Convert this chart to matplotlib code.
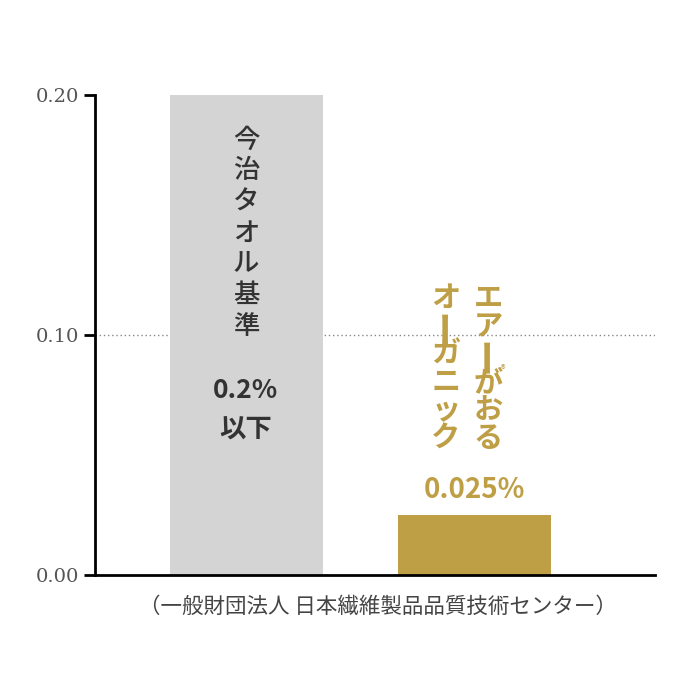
import matplotlib.pyplot as plt

plt.rcParams['font.family'] = ['Noto Sans CJK JP', 'DejaVu Sans']

# データ
labels = ['今治タオル基準', 'エアーがおる オーガニック']
values = [0.20, 0.025]
yticks = [0.00, 0.10, 0.20]
colors = ['#d4d4d4', '#bf9f45']
gold = '#bf9f45'

fig = plt.figure(figsize=(7, 7), dpi=100)
ax = fig.add_axes([95/700, 1-575/700, 560/700, 480/700])

ax.bar([1.08, 2.71], values, width=1.09, color=colors, zorder=2)
ax.axhline(0.10, color='#888888', linestyle=(0, (1, 2)), linewidth=1, zorder=1)

ax.set_xlim(0, 4)
ax.set_ylim(0, 0.20)
ax.set_yticks(yticks)
ax.set_yticklabels([f'{v:.2f}' for v in yticks], family='DejaVu Serif', color='#555555', fontsize=14)
ax.set_xticks([])
for s in ['top', 'right']:
    ax.spines[s].set_visible(False)
ax.spines['left'].set_linewidth(2)
ax.spines['bottom'].set_linewidth(2)
ax.tick_params(axis='y', direction='out', length=8, width=2)


def px(x, y, s, **kw):
    fig.text(x/700, 1-y/700, s, ha='center', va='center', **kw)


def vertical(x, y0, step, text, **kw):
    for i, ch in enumerate(text):
        rot = 90 if ch == 'ー' else 0
        size = kw.get('fontsize', 12) * (1.3 if ch == 'ー' else 1)
        px(x, y0 + i*step, ch, rotation=rot, **{**kw, 'fontsize': size})


vertical(246, 140, 31, '今治タオル基準', fontsize=19, weight='medium', color='#333333')
px(246, 390, '0.2%', fontsize=19, weight='bold', color='#333333')
px(246, 430, '以下', fontsize=19, weight='bold', color='#333333')

vertical(488, 298, 28, 'エアーがおる', fontsize=21, weight='bold', color=gold)
px(503, 370, '®', fontsize=7, color=gold)
vertical(446, 298, 28, 'オーガニック', fontsize=21, weight='bold', color=gold)
px(474, 490, '0.025%', fontsize=20, weight='bold', color=gold)

px(378, 607, '（一般財団法人 日本繊維製品品質技術センター）', fontsize=15.5, color='#444444')

fig.savefig('out.png', dpi=100, facecolor='white')
